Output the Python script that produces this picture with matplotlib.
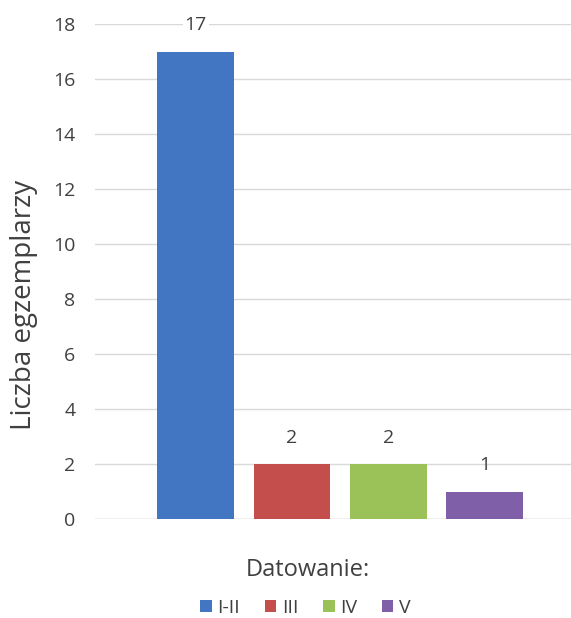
import matplotlib.pyplot as plt
from matplotlib.patches import Patch

# dating periods and specimen counts
periods = ["I-II", "III", "IV", "V"]
counts = [17, 2, 2, 1]
colors = ["#4276C2", "#C44E4C", "#9BC159", "#7E5FA8"]

plt.rcParams['font.family'] = ['Open Sans', 'DejaVu Sans']
text_color = "#404040"

fig = plt.figure(figsize=(5.71, 6.18), dpi=100)
ax = fig.add_axes([0.166, 0.160, 0.834, 0.801])

x = range(len(periods))
bars = ax.bar(x, counts, width=0.8, color=colors, zorder=2)

# value labels above each bar
for xi, v in zip(x, counts):
    ax.text(xi, v + 0.95, str(v), ha='center', va='center', fontsize=14,
            color=text_color, zorder=3,
            bbox=dict(facecolor='white', edgecolor='none', pad=1.5) if v > 15 else None)

ax.set_xlim(-1.05, 3.9)
ax.set_ylim(0, 18)
ax.set_yticks(range(0, 19, 2))
ax.set_xticks([])
ax.tick_params(axis='y', length=0, labelsize=14, labelcolor=text_color, pad=14)
ax.grid(axis='y', color='#D9D9D9', linewidth=1, zorder=0)
for s in ax.spines.values():
    s.set_visible(False)
ax.axhline(0, color='#D0D0D0', linewidth=1, zorder=1)

fig.text(0.042, 0.506, "Liczba egzemplarzy", rotation=90, ha='center', va='center',
         fontsize=20, color=text_color)
fig.text(0.540, 0.078, "Datowanie:", ha='center', va='center', fontsize=17,
         color=text_color)

handles = [Patch(facecolor=c, label=p) for c, p in zip(colors, periods)]
fig.legend(handles=handles, loc='center', bbox_to_anchor=(0.535, 0.016), ncol=4,
           frameon=False, fontsize=14, handlelength=0.6, handleheight=0.6,
           handletextpad=0.3, columnspacing=1.25, labelcolor=text_color)

fig.savefig("out.png", dpi=100)
